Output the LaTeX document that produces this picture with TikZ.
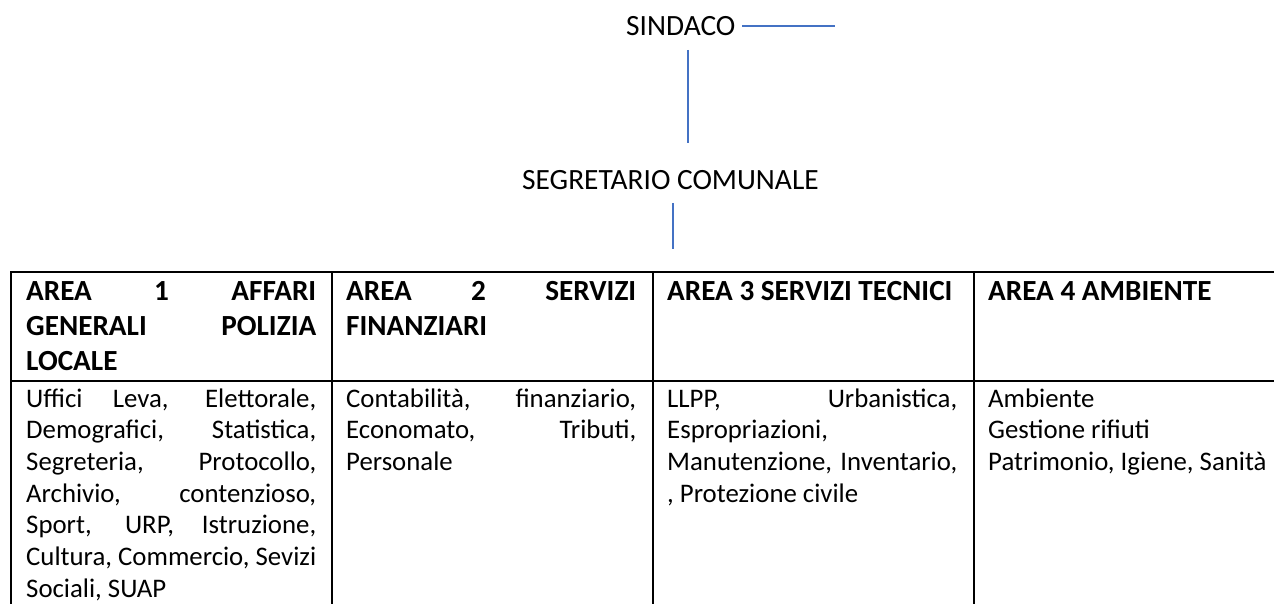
\documentclass[tikz,border=0pt]{standalone}
\usepackage{fontspec}
\setmainfont{Carlito}
\definecolor{linkblue}{RGB}{68,114,196}
\newcommand\justline[1]{\makebox[290pt][s]{\spaceskip=0pt\xspaceskip=0pt #1}}
\begin{document}
\begin{tikzpicture}[x=1pt,y=-1pt,
  toplabel/.style={inner sep=0pt, anchor=base west, font=\fontsize{29.4}{35}\selectfont},
  cellbase/.style={inner sep=0pt, anchor=base west, text width=290pt, align=left,
    execute at begin node={\spaceskip=0pt\xspaceskip=0pt}},
  headcell/.style={cellbase, font=\fontsize{29.2}{35}\selectfont\bfseries},
  bodycell/.style={cellbase, font=\fontsize{26.8}{31.65}\selectfont},
  gridline/.style={line width=2pt, black},
  link/.style={line width=1.3pt, linkblue}]
\useasboundingbox (0,0) rectangle (1274,604);
\clip (0,0) rectangle (1274,604);
% top labels
\node[toplabel] (sindaco) at (626,35.3) {SINDACO};
\node[toplabel] (segretario) at (522,190) {SEGRETARIO COMUNALE};
% blue lines
\coordinate (h1) at (742,26);
\coordinate (h2) at (835,26);
\coordinate (v1a) at (688,50);
\coordinate (v1b) at (688,143);
\coordinate (v2a) at (673,203);
\coordinate (v2b) at (673,249);
\draw[link] (h1) -- (h2);
\draw[link] (v1a) -- (v1b);
\draw[link] (v2a) -- (v2b);
% table grid
\coordinate (tl) at (11,272);
\coordinate (tr) at (1295,272);
\coordinate (ml) at (11,381);
\coordinate (mr) at (1295,381);
\draw[gridline] (tl) -- (tr);
\draw[gridline] (ml) -- (mr);
\foreach \x in {11,332,653,974,1295}{
  \draw[gridline] (\x,271) -- (\x,620);
}
% header cells
\node[headcell] (h-a1) at (26,300) {\justline{AREA 1 AFFARI}\\\justline{GENERALI POLIZIA}\\LOCALE};
\node[headcell] (h-a2) at (346,300) {\justline{AREA 2 SERVIZI}\\FINANZIARI};
\node[headcell] (h-a3) at (667,300) {AREA 3 SERVIZI TECNICI};
\node[headcell] (h-a4) at (988,300) {AREA 4 AMBIENTE};
% body cells
\node[bodycell] (b-a1) at (26,407.3) {\justline{Uffici Leva, Elettorale,}\\\justline{Demografici, Statistica,}\\\justline{Segreteria, Protocollo,}\\\justline{Archivio, contenzioso,}\\\justline{Sport, URP, Istruzione,}\\\justline{Cultura, Commercio, Sevizi}\\Sociali, SUAP};
\node[bodycell] (b-a2) at (346,407.3) {\justline{Contabilità, finanziario,}\\\justline{Economato, Tributi,}\\Personale};
\node[bodycell] (b-a3) at (667,407.3) {\justline{LLPP, Urbanistica,}\\Espropriazioni,\\\justline{Manutenzione, Inventario,}\\, Protezione civile};
\node[bodycell] (b-a4) at (988,407.3) {Ambiente\\Gestione rifiuti\\Patrimonio, Igiene, Sanità};
\end{tikzpicture}
\end{document}
